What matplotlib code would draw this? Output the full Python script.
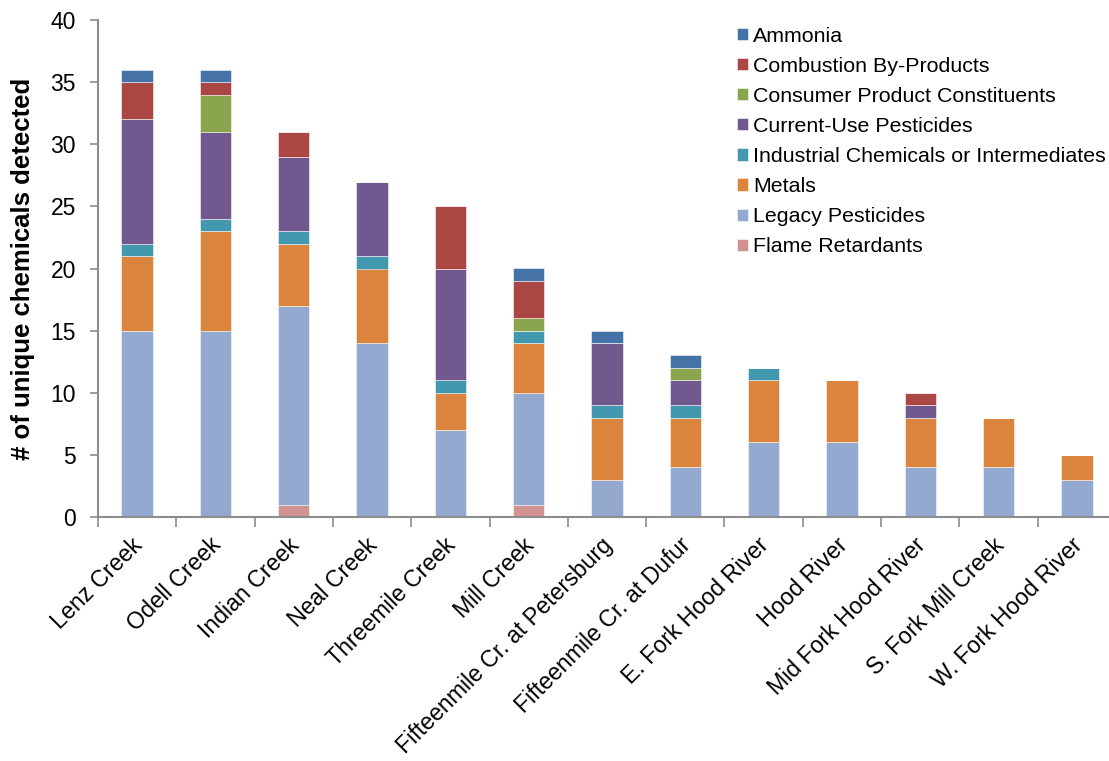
import matplotlib
matplotlib.use("Agg")
import matplotlib.pyplot as plt
import matplotlib.transforms as mtransforms
import numpy as np

plt.rcParams['font.family'] = ['Liberation Sans', 'DejaVu Sans']

sites = ["Lenz Creek", "Odell Creek", "Indian Creek", "Neal Creek", "Threemile Creek",
         "Mill Creek", "Fifteenmile Cr. at Petersburg", "Fifteenmile Cr. at Dufur",
         "E. Fork Hood River", "Hood River", "Mid Fork Hood River", "S. Fork Mill Creek",
         "W. Fork Hood River"]

# stacked from the bottom up
flame_retardants = [0, 0, 1, 0, 0, 1, 0, 0, 0, 0, 0, 0, 0]
legacy_pesticides = [15, 15, 16, 14, 7, 9, 3, 4, 6, 6, 4, 4, 3]
metals = [6, 8, 5, 6, 3, 4, 5, 4, 5, 5, 4, 4, 2]
industrial = [1, 1, 1, 1, 1, 1, 1, 1, 1, 0, 0, 0, 0]
current_use = [10, 7, 6, 6, 9, 0, 5, 2, 0, 0, 1, 0, 0]
consumer = [0, 3, 0, 0, 0, 1, 0, 1, 0, 0, 0, 0, 0]
combustion = [3, 1, 2, 0, 5, 3, 0, 0, 0, 0, 1, 0, 0]
ammonia = [1, 1, 0, 0, 0, 1, 1, 1, 0, 0, 0, 0, 0]

series = [
    ("Flame Retardants", flame_retardants, "#D19392"),
    ("Legacy Pesticides", legacy_pesticides, "#93A9CF"),
    ("Metals", metals, "#DB843D"),
    ("Industrial Chemicals or Intermediates", industrial, "#4298AF"),
    ("Current-Use Pesticides", current_use, "#71588F"),
    ("Consumer Product Constituents", consumer, "#89A54E"),
    ("Combustion By-Products", combustion, "#AA4644"),
    ("Ammonia", ammonia, "#4572A7"),
]

fig = plt.figure(figsize=(11.09, 7.61), dpi=100)
ax = fig.add_axes([98 / 1109, 1 - 517 / 761, 1018 / 1109, 497 / 761])

x = np.arange(len(sites))
bottom = np.zeros(len(sites))
handles = []
for name, vals, color in series:
    v = np.array(vals, dtype=float)
    b = ax.bar(x, v, width=0.4, bottom=bottom, color=color, edgecolor=(1, 1, 1, 0.6),
               linewidth=0.6, label=name)
    handles.append(b)
    bottom += v

ax.set_xlim(-0.5, len(sites) - 0.5)
ax.set_ylim(0, 40)
ax.set_yticks(range(0, 41, 5))
ax.tick_params(axis='y', direction='out', length=6, width=1.2, color='#8C8C8C',
               labelsize=16.5, pad=10)
ax.set_xticks(x)
ax.set_xticklabels(sites, rotation=45, ha='right', rotation_mode='anchor', fontsize=16.7)
ax.tick_params(axis='x', length=0, pad=12)
ax.set_xticks(np.arange(-0.5, len(sites) + 0.5, 1), minor=True)
ax.tick_params(axis='x', which='minor', direction='out', length=7, width=1.2, color='#8C8C8C')

# nudge the rotated site names slightly left
shift = mtransforms.ScaledTranslation(-6 / 100, 0, fig.dpi_scale_trans)
for lbl in ax.get_xticklabels():
    lbl.set_transform(lbl.get_transform() + shift)

for s in ['top', 'right']:
    ax.spines[s].set_visible(False)
for s in ['left', 'bottom']:
    ax.spines[s].set_color('#8C8C8C')
    ax.spines[s].set_linewidth(1.5)

ax.set_ylabel("# of unique chemicals detected", fontsize=18.5, fontweight='bold')
ax.yaxis.set_label_coords(-63 / 1018, 0.5)

leg = ax.legend(handles[::-1], [h.get_label() for h in handles[::-1]],
                loc='upper right', bbox_to_anchor=(0.9986, 1.004), frameon=False,
                fontsize=15.4, handlelength=0.5, handleheight=0.5, handletextpad=0.25,
                labelspacing=0.52, borderaxespad=0)

fig.savefig("out.png", dpi=100)
